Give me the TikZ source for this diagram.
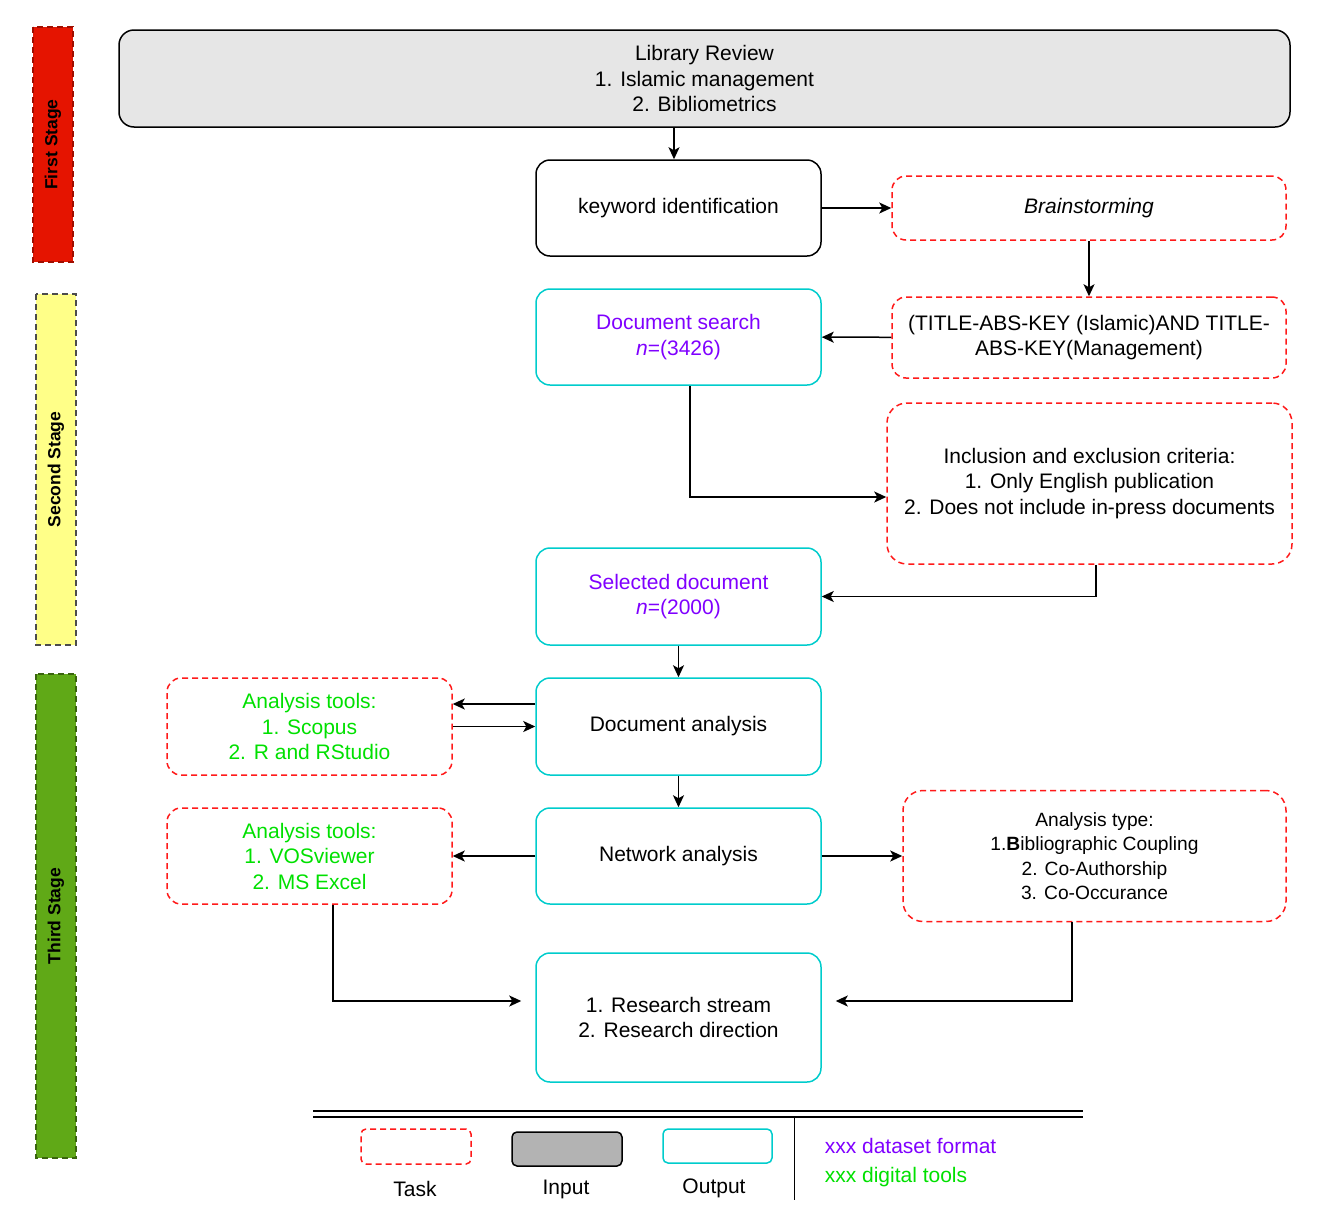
\documentclass[tikz,border=0pt]{standalone}
\usepackage{fontspec}
\setmainfont{Liberation Sans}
\usetikzlibrary{positioning,arrows.meta}

\definecolor{taskred}{HTML}{FF1A1A}
\definecolor{outcyan}{HTML}{00CCCC}
\definecolor{dataviolet}{HTML}{7F00FF}
\definecolor{toolgreen}{HTML}{00E000}
\definecolor{reviewgray}{HTML}{E6E6E6}
\definecolor{inputgray}{HTML}{B3B3B3}
\definecolor{stagered}{HTML}{E51400}
\definecolor{stageyellow}{HTML}{FFFF88}
\definecolor{stagegreen}{HTML}{60A917}

\begin{document}
\begin{tikzpicture}[x=1pt, y=-1pt, node distance=130pt, line width=1.5pt,
  font=\fontsize{21}{25.5}\selectfont, >={Stealth[length=12pt, width=11pt, inset=3pt]},
  block/.style={rectangle, draw, rounded corners=14pt, minimum width=285pt, minimum height=96pt, align=center, inner sep=2pt},
  task/.style={block, draw=taskred, dash pattern=on 6pt off 4pt},
  output/.style={block, draw=outcyan},
  stagebar/.style={rectangle, draw, dash pattern=on 6pt off 4pt, minimum height=40pt, rotate=90, inner sep=0pt, font=\fontsize{17.5}{20}\selectfont\bfseries}]

  \useasboundingbox (0,0) rectangle (1341,1213);

  \node[stagebar, fill=stagered, draw=stagered!70!black, minimum width=235pt] (first) at (53,144.5) {First Stage};
  \node[stagebar, fill=stageyellow, draw=black!70, minimum width=351pt] (second) at (56,469.5) {Second Stage};
  \node[stagebar, fill=stagegreen, draw=stagegreen!60!black, minimum width=484pt] (third) at (56,916) {Third Stage};

  \node[block, fill=reviewgray, minimum width=1171pt, minimum height=97pt, rounded corners=15pt] (review) at (704.5,78.5) {Library Review\\1. Islamic management\\2. Bibliometrics};
  \node[block] (keyword) at (678.5,208) {keyword identification};
  \node[task, right of=keyword, node distance=410.5pt, minimum width=394pt, minimum height=64pt] (brain) {\textit{Brainstorming}};
  \node[task, below of=brain, node distance=129.5pt, minimum width=394pt, minimum height=81pt] (query) {(TITLE-ABS-KEY (Islamic)AND TITLE-\\ABS-KEY(Management)};
  \node[output, below of=keyword, node distance=129pt, text=dataviolet] (docsearch) {Document search\\\textit{n}=(3426)};
  \node[task, minimum width=405pt, minimum height=161pt, rounded corners=20pt] (criteria) at (1089.5,483.5) {Inclusion and exclusion criteria:\\1. Only English publication\\2. Does not include in-press documents};
  \node[output, below of=docsearch, node distance=259.5pt, minimum height=97pt, text=dataviolet] (selected) {Selected document\\\textit{n}=(2000)};
  \node[output, below of=selected, node distance=130pt, minimum height=97pt] (docanalysis) {Document analysis};
  \node[task, left of=docanalysis, node distance=369pt, minimum height=97pt, text=toolgreen] (scopus) {Analysis tools:\\1. Scopus\\2. R and RStudio};
  \node[output, below of=docanalysis, node distance=129.5pt] (network) {Network analysis};
  \node[task, left of=network, node distance=369pt, text=toolgreen] (vos) {Analysis tools:\\1. VOSviewer\\2. MS Excel};
  \node[task, right of=network, node distance=416pt, minimum width=383pt, minimum height=131pt, rounded corners=20pt, font=\fontsize{19.2}{24.5}\selectfont] (atype) {Analysis type:\\1.\textbf{B}ibliographic Coupling\\2. Co-Authorship\\3. Co-Occurance};
  \node[output, below of=network, node distance=161.5pt, minimum height=129pt] (stream) {1. Research stream\\2. Research direction};

  \draw[->] ([xshift=-4.5pt]review.south -| keyword) -- ([xshift=-4.5pt]keyword.north);
  \draw[->] (keyword) -- (brain);
  \draw[->] (brain) -- (query);
  \draw[->] (query) -- (docsearch);
  \draw[->] ([xshift=11.5pt]docsearch.south) |- ([yshift=-13.5pt]criteria.west);
  \draw[->] ([xshift=6.5pt]criteria.south) |- (selected.east);
  \draw[->] (selected) -- (docanalysis);
  \draw[->] ([yshift=22.5pt]docanalysis.west) -- ([yshift=22.5pt]scopus.east);
  \draw[->] (scopus) -- (docanalysis);
  \draw[->] (docanalysis) -- (network);
  \draw[->] (network) -- (vos);
  \draw[->] (network) -- (atype);
  \draw[->, shorten >=14pt] ([xshift=23.5pt]vos.south) |- ([yshift=16.5pt]stream.west);
  \draw[->, shorten >=14pt] ([xshift=-22.5pt]atype.south) |- ([yshift=16.5pt]stream.east);

  \draw (313,1111) -- (1083,1111);
  \draw (313,1117) -- (1083,1117);
  \draw[line width=1pt] (794,1117) -- (794,1200);
  \node[task, minimum width=110pt, minimum height=35pt, rounded corners=5pt] (taskkey) at (416,1146.5) {};
  \node[block, fill=inputgray, minimum width=110pt, minimum height=34pt, rounded corners=5pt] (inputkey) at (567,1149) {};
  \node[output, minimum width=109pt, minimum height=34pt, rounded corners=5pt] (outputkey) at (717.5,1146) {};
  \node (tasklbl) at (415,1189) {Task};
  \node (inputlbl) at (566,1189) {Input};
  \node (outputlbl) at (714,1188) {Output};
  \node[anchor=west, inner sep=0pt, text=dataviolet] (formatlbl) at (824,1146) {xxx dataset format};
  \node[anchor=west, inner sep=0pt, text=toolgreen] (toolslbl) at (824,1177) {xxx digital tools};
\end{tikzpicture}
\end{document}
